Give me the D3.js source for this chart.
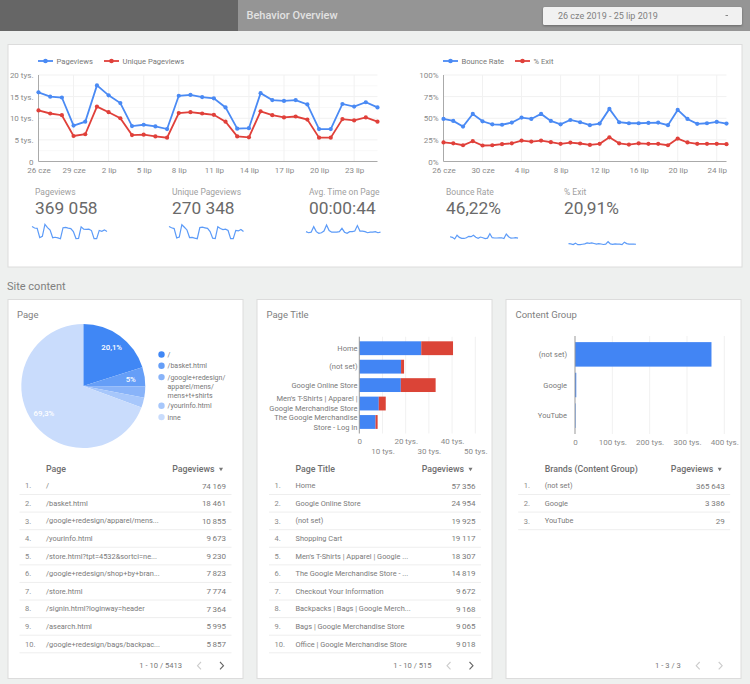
<!DOCTYPE html>
<html>
<head>
<meta charset="utf-8">
<script src="https://d3js.org/d3.v7.min.js"></script>
<style>
  body { margin: 0; background: #eef0ef; }
  svg { display: block; font-family: Roboto, sans-serif; }
  .axis path, .axis line { stroke: none; }
  .axis text { fill: #8a8a8a; font-size: 8px; font-family: Roboto, sans-serif; }
  .grid line { stroke: #f1f1f1; }
  .minor line { stroke: #f8f8f8; }
  .card { fill: #fff; stroke: #dcdcdc; }
</style>
</head>
<body>
<svg id="board" width="750" height="684"></svg>
<script>
// daily data, 26 cze - 25 lip
const days = ["26 cze","27 cze","28 cze","29 cze","30 cze","1 lip","2 lip","3 lip","4 lip","5 lip","6 lip","7 lip","8 lip","9 lip","10 lip","11 lip","12 lip","13 lip","14 lip","15 lip","16 lip","17 lip","18 lip","19 lip","20 lip","21 lip","22 lip","23 lip","24 lip","25 lip"];
const pageviews = [16000,15000,14800,8300,9200,17600,15300,13500,8200,8500,8100,7500,15200,15400,14900,14600,12500,7600,7700,15800,14200,14000,14200,13200,7500,7500,13300,12700,13700,12500];
const uniquePageviews = [11800,11100,10700,5900,6300,12700,11400,10000,6100,6200,5800,5500,11200,11400,11100,10800,9200,5800,5600,11600,10700,10200,10400,9700,5500,5500,9800,9500,10200,9200];
const bounceRate = [49.2,46.9,40.4,55,46.5,43,42.5,45,50.8,49.2,55,46.9,43,48,45.4,42,43.8,60.8,45.4,44.2,44.2,44.6,45,42,59.6,49.2,43.5,44.2,45.8,43.8];
const exitRate = [22,21,18.8,23.5,18.5,18.8,20,21,24.2,23,24.2,22.3,20.4,21.9,20.8,19.2,20.4,28,21,19.6,21,20.4,20.4,18.8,26.5,22,20.4,20.4,20.4,20];
const avgTime = [43,41,42,52,43,40,41,44,55,45,42,42,42,43,49,42,40,43,43,44,54,44,44,43,41,42,42,43,41,42];

const kpiNames = ["Pageviews","Unique Pageviews","Avg. Time on Page","Bounce Rate","% Exit"];
const kpiValues = ["369 058","270 348","00:00:44","46,22%","20,91%"];

const pieLabels = ["/","/basket.html","/google+redesign/\napparel/mens/\nmens+t+shirts","/yourinfo.html","inne"];
const pieValues = [20.1,5,2.9,2.6,69.3];
const pieColors = ["#4087f5","#659ef7","#88b3f9","#a7c7fb","#c9dcfc"];

const titleCats = ["Home","(not set)","Google Online Store","Men's T-Shirts | Apparel |\nGoogle Merchandise Store","The Google Merchandise\nStore - Log In"];
const titleFirst = [26700,18000,17900,8400,7000];
const titleSecond = [13700,1300,15000,3000,900];

const groupCats = ["(not set)","Google","YouTube"];
const groupValues = [365643,3386,29];

const pageRows = ["/","/basket.html","/google+redesign/apparel/mens...","/yourinfo.html","/store.html?tpt=4532&sortci=ne...","/google+redesign/shop+by+bran...","/store.html","/signin.html?loginway=header","/asearch.html","/google+redesign/bags/backpac..."];
const pageVals = [74169,18461,10855,9673,9230,7823,7774,7364,5995,5857];
const titleRows = ["Home","Google Online Store","(not set)","Shopping Cart","Men's T-Shirts | Apparel | Google ...","The Google Merchandise Store - ...","Checkout Your Information","Backpacks | Bags | Google Merch...","Bags | Google Merchandise Store","Office | Google Merchandise Store"];
const titleVals = [57356,24954,19925,19117,18307,14819,9672,9168,9065,9018];
const groupVals = [365643,3386,29];

const BLUE = "#4a8af4", RED = "#e0403a", BAR_BLUE = "#4285f4", BAR_RED = "#db4437";

const svg = d3.select("#board");
const locale = d3.formatLocale({decimal: ",", thousands: "\u2009", grouping: [3], currency: ["", ""]});
const fmtNum = locale.format(",d");
const tys = v => v === 0 ? "0" : (v / 1000) + " tys.";

function text(g, x, y, str, size, color, anchor, weight) {
  return g.append("text").attr("x", x).attr("y", y).attr("dy", "0.35em")
    .attr("font-size", size).attr("fill", color)
    .attr("text-anchor", anchor || "start").attr("font-weight", weight || 400)
    .text(str);
}

// header
svg.append("rect").attr("width", 238).attr("height", 31).attr("fill", "#666");
svg.append("rect").attr("x", 238).attr("width", 512).attr("height", 31).attr("fill", "#959595");
text(svg, 246.5, 15, "Behavior Overview", 11, "#e2e2e2", "start", 500);
svg.append("rect").attr("x", 543).attr("y", 7).attr("width", 199).attr("height", 18).attr("rx", 1.5)
  .attr("fill", "#f1f1f1").style("filter", "drop-shadow(0 1px 1px rgba(0,0,0,.3))");
text(svg, 558, 15.5, "26 cze 2019 - 25 lip 2019", 9, "#808080");
svg.append("rect").attr("x", 725.5).attr("y", 15).attr("width", 2.5).attr("height", 1).attr("fill", "#888");

// panels
svg.append("rect").attr("class", "card").attr("x", 8).attr("y", 44.5).attr("width", 734).attr("height", 222.5);
text(svg, 7, 286.5, "Site content", 11, "#808080");
[8, 257, 506].forEach(x => {
  svg.append("rect").attr("class", "card").attr("x", x).attr("y", 299.5).attr("width", 235).attr("height", 379);
});

// time charts
function timeChart(x0, x1, seriesA, seriesB, nameA, nameB, maxY, yTicks, yMinor, yFmt, every, legendX) {
  const x = d3.scalePoint().domain(days).range([x0, x1]);
  const y = d3.scaleLinear().domain([0, maxY]).range([161.5, 75]);
  const g = svg.append("g");
  const xTicks = days.filter((d, i) => i % every === 0);

  g.append("g").attr("class", "minor").selectAll("line").data(yMinor).join("line")
    .attr("x1", x0).attr("x2", x1).attr("y1", d => y(d)).attr("y2", d => y(d));
  g.append("g").attr("class", "grid").selectAll("line").data(yTicks.slice(1)).join("line")
    .attr("x1", x0).attr("x2", x1).attr("y1", d => y(d)).attr("y2", d => y(d));
  g.append("g").attr("class", "grid").selectAll("line").data(xTicks.slice(1)).join("line")
    .attr("x1", d => x(d)).attr("x2", d => x(d)).attr("y1", 75).attr("y2", 161.5);

  g.append("g").attr("class", "axis").attr("transform", `translate(${x0},0)`)
    .call(d3.axisLeft(y).tickValues(yTicks).tickFormat(yFmt).tickSize(0).tickPadding(5));
  g.append("g").attr("class", "axis").attr("transform", "translate(0,161.5)")
    .call(d3.axisBottom(x).tickValues(xTicks).tickSize(0).tickPadding(5.5));
  g.append("line").attr("x1", x0).attr("x2", x0).attr("y1", 75).attr("y2", 161.5).attr("stroke", "#aaa");
  g.append("line").attr("x1", x0).attr("x2", x1).attr("y1", 161.5).attr("y2", 161.5).attr("stroke", "#aaa");

  const line = d3.line().x((d, i) => x(days[i])).y(d => y(d));
  [[seriesA, BLUE], [seriesB, RED]].forEach(([vals, color]) => {
    g.append("path").attr("d", line(vals)).attr("fill", "none").attr("stroke", color).attr("stroke-width", 1.8);
    g.append("g").selectAll("circle").data(vals).join("circle")
      .attr("cx", (d, i) => x(days[i])).attr("cy", d => y(d)).attr("r", 2.1).attr("fill", color);
  });

  // legend
  [[nameA, BLUE, legendX[0]], [nameB, RED, legendX[1]]].forEach(([name, color, lx]) => {
    g.append("line").attr("x1", lx).attr("x2", lx + 15).attr("y1", 61).attr("y2", 61).attr("stroke", color).attr("stroke-width", 1.8);
    g.append("circle").attr("cx", lx + 7.5).attr("cy", 61).attr("r", 2.3).attr("fill", color);
    text(g, lx + 18.5, 61, name, 7.6, "#777");
  });
}
timeChart(38.5, 377.5, pageviews, uniquePageviews, "Pageviews", "Unique Pageviews", 20000,
  [0, 5000, 10000, 15000, 20000], [2500, 7500, 12500, 17500], tys, 3, [38, 104]);
timeChart(443.5, 726.5, bounceRate, exitRate, "Bounce Rate", "% Exit", 100,
  [0, 25, 50, 75, 100], [], d => d + "%", 4, [443, 515]);

// kpi + sparklines
const kpiX = [35, 172, 309, 446, 564];
const sparkSeries = [pageviews, uniquePageviews, avgTime, bounceRate, exitRate];
const sparkX = [[32, 107], [169, 243.5], [306, 380.5], [450, 518], [568.5, 636]];
const sparkY = [[238.7, 224.3], [238.7, 224.7], [233.3, 225], [239, 233.7], [244.7, 241.7]];
kpiNames.forEach((name, k) => {
  text(svg, kpiX[k], 192, name, 8.5, "#a0a0a0");
  text(svg, kpiX[k], 207.5, kpiValues[k], 17.3, "#6a6a6a");
  const vals = sparkSeries[k];
  const sx = d3.scaleLinear().domain([0, vals.length - 1]).range(sparkX[k]);
  const sy = d3.scaleLinear().domain(d3.extent(vals)).range(sparkY[k]);
  svg.append("path").attr("d", d3.line().x((d, i) => sx(i)).y(d => sy(d))(vals))
    .attr("fill", "none").attr("stroke", "#5c9bf8").attr("stroke-width", 1.2);
});

// pie
text(svg, 17, 315, "Page", 9.5, "#808080");
const pieG = svg.append("g").attr("transform", "translate(83.3,386)");
const arcs = d3.pie().sort(null)(pieValues);
const arc = d3.arc().innerRadius(0).outerRadius(62);
pieG.selectAll("path").data(arcs).join("path").attr("d", arc)
  .attr("fill", (d, i) => pieColors[i]);
const labelArc = d3.arc().innerRadius(48).outerRadius(48);
const pctLabels = pieValues.map(v => v >= 5 ? String(v).replace(".", ",") + "%" : "");
pieG.selectAll("text").data(arcs).join("text")
  .attr("transform", d => `translate(${labelArc.centroid(d)})`)
  .attr("text-anchor", "middle").attr("dy", "0.35em")
  .attr("font-size", 7.8).attr("font-weight", 500).attr("fill", "#fff")
  .text((d, i) => pctLabels[i]);

let legendY = 354.5;
pieLabels.forEach((label, i) => {
  svg.append("circle").attr("cx", 161.5).attr("cy", legendY).attr("r", 3.2).attr("fill", pieColors[i]);
  const lines = label.split("\n");
  lines.forEach((l, j) => text(svg, 167.5, legendY + j * 9, l, 7, "#777"));
  legendY += lines.length === 1 ? 11.3 : 28.7;
});

// bars
function barChart(title, titleX, cats, stacked, colors, x0, x1, maxX, tickStep, top, bottom, padding, labelX, stagger) {
  text(svg, titleX, 315, title, 9.5, "#808080");
  const g = svg.append("g");
  const x = d3.scaleLinear().domain([0, maxX]).range([x0, x1]);
  const y = d3.scaleBand().domain(cats).range([top, bottom]).padding(padding);
  const ticks = d3.range(0, maxX + 1, tickStep);

  g.append("g").attr("class", "grid").selectAll("line").data(ticks.slice(1)).join("line")
    .attr("x1", d => x(d)).attr("x2", d => x(d)).attr("y1", top).attr("y2", bottom);

  const keys = stacked.map((s, i) => i);
  const rows = cats.map((c, i) => Object.fromEntries(keys.map(k => [k, stacked[k][i]])));
  const layers = d3.stack().keys(keys)(rows);
  layers.forEach((layer, k) => {
    g.append("g").selectAll("rect").data(layer).join("rect")
      .attr("x", d => x(d[0])).attr("width", d => Math.max(x(d[1]) - x(d[0]), 0.6))
      .attr("y", (d, i) => y(cats[i])).attr("height", y.bandwidth())
      .attr("fill", colors[k]);
  });
  g.append("line").attr("x1", x0).attr("x2", x0).attr("y1", top).attr("y2", bottom).attr("stroke", "#999");

  const axis = g.append("g").attr("class", "axis").attr("transform", `translate(0,${bottom})`)
    .call(d3.axisBottom(x).tickValues(ticks).tickFormat(tys).tickSize(0).tickPadding(5));
  if (stagger) {
    axis.selectAll(".tick text").attr("dy", (d, i) => i % 2 ? "1.9em" : "0.71em");
  }
  cats.forEach(c => {
    const lines = c.split("\n");
    const cy = y(c) + y.bandwidth() / 2;
    lines.forEach((l, j) => text(g, labelX, cy + (j - (lines.length - 1) / 2) * 10.2, l, 7.5, "#7a7a7a", "end"));
  });
}
barChart("Page Title", 266.5, titleCats, [titleFirst, titleSecond], [BAR_BLUE, BAR_RED],
  359.3, 475.3, 50000, 10000, 336.7, 433.5, 0.25, 357.5, true);
barChart("Content Group", 515.5, groupCats, [groupValues], [BAR_BLUE],
  575, 724.3, 400000, 100000, 336, 434, 0.2, 567, false);

// tables
function table(left, head, rows, vals, footer) {
  const g = svg.append("g").attr("transform", `translate(${left},0)`);
  const rowY = d3.scaleLinear().domain([0, 9]).range([485.7, 644]);
  text(g, 46, 469, head, 8.8, "#6e6e6e", "start", 500);
  text(g, 214.5, 469, "Pageviews", 8.8, "#6e6e6e", "end", 500);
  g.append("path").attr("d", d3.symbol(d3.symbolTriangle, 7)()).attr("fill", "#777")
    .attr("transform", "translate(221,469) rotate(180)");
  rows.forEach((r, i) => {
    text(g, 25, rowY(i), (i + 1) + ".", 7.5, "#888");
    text(g, 46, rowY(i), r, 7.4, "#7a7a7a");
    text(g, 226, rowY(i), fmtNum(vals[i]), 8, "#7a7a7a", "end");
    g.append("line").attr("x1", 19.5).attr("x2", 231.5)
      .attr("y1", rowY(i) + 8.8).attr("y2", rowY(i) + 8.8).attr("stroke", "#eee");
  });
  text(g, 182, 665.7, footer, 7.6, "#777", "end");
  g.append("path").attr("d", "M201,662L197.5,665.7L201,669.4").attr("fill", "none").attr("stroke", "#ccc").attr("stroke-width", 1.1);
  g.append("path").attr("d", "M220,662L223.5,665.7L220,669.4").attr("fill", "none")
    .attr("stroke", rows.length === 10 ? "#666" : "#ccc").attr("stroke-width", 1.1);
}
table(0, "Page", pageRows, pageVals, "1 - 10 / 5413");
table(249.5, "Page Title", titleRows, titleVals, "1 - 10 / 515");
table(498.7, "Brands (Content Group)", groupCats, groupVals, "1 - 3 / 3");
</script>
</body>
</html>
